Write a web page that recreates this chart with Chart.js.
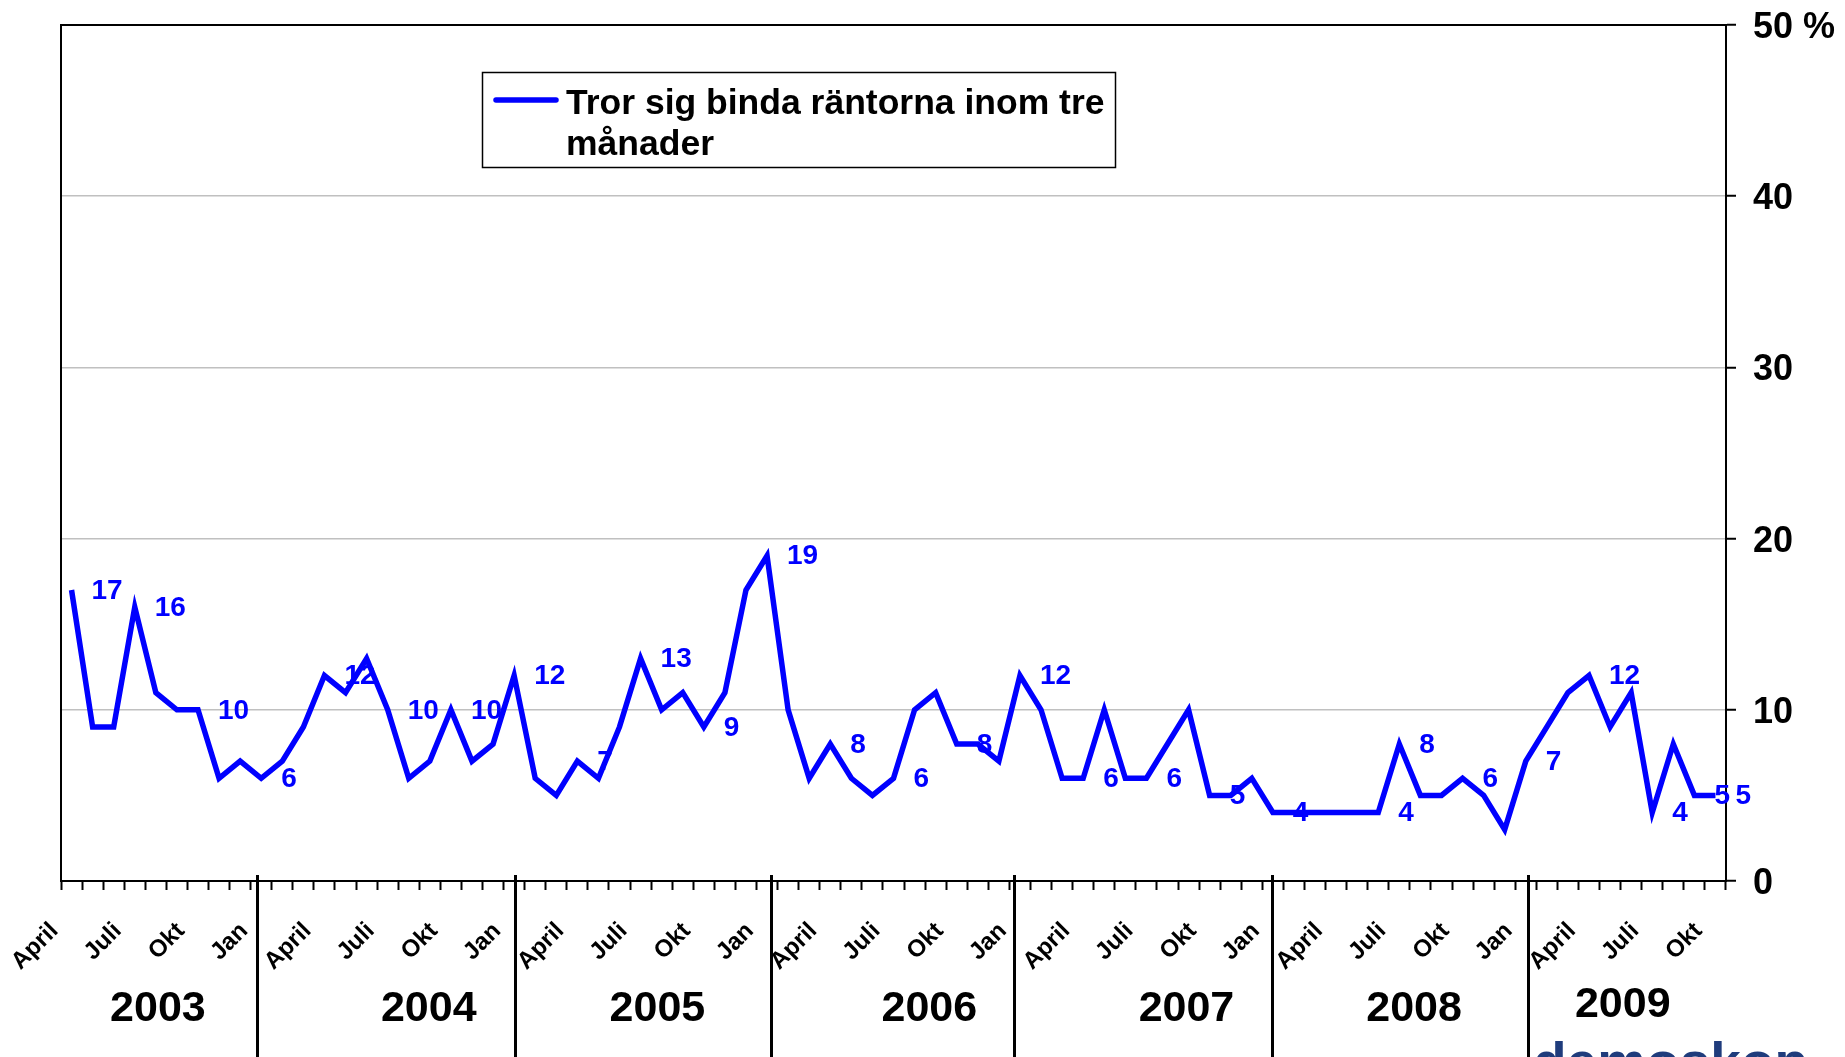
<!DOCTYPE html>
<html>
<head>
<meta charset="utf-8">
<title>Tror sig binda räntorna inom tre månader</title>
<script src="https://cdn.jsdelivr.net/npm/chart.js@4/dist/chart.umd.min.js"></script>
<style>
    body { margin: 0; background: #fff; }
    #wrap { width: 1845px; height: 1057px; position: relative; overflow: hidden; }
</style>
</head>
<body>
<div id="wrap"><canvas id="chart" width="1845" height="1057"></canvas></div>
<script>
'use strict';

// data, monthly from April 2003 to Okt 2009
var years = ['2003', '2004', '2005', '2006', '2007', '2008', '2009'];
var monthNames = ['Jan', 'Feb', 'Mars', 'April', 'Maj', 'Juni', 'Juli', 'Aug', 'Sep', 'Okt', 'Nov', 'Dec'];
var tickLabels = ['April', 'Juli', 'Okt', 'Jan'];

var values = [
    17, 9, 9, 16, 11, 10, 10, 6, 7,
    6, 7, 9, 12, 11, 13, 10, 6, 7, 10, 7, 8,
    12, 6, 5, 7, 6, 9, 13, 10, 11, 9, 11, 17,
    19, 10, 6, 8, 6, 5, 6, 10, 11, 8, 8, 7,
    12, 10, 6, 6, 10, 6, 6, 8, 10, 5, 5, 6,
    4, 4, 4, 4, 4, 4, 8, 5, 5, 6, 5, 3,
    7, 9, 11, 12, 9, 11, 4, 8, 5, 5
];

// points that carry a value label
var labelledPoints = [0, 3, 6, 9, 12, 15, 18, 21, 24, 27, 30, 33, 36, 39, 42, 45,
    48, 51, 54, 57, 62, 63, 66, 69, 72, 75, 77, 78];

var legendLines = ['Tror sig binda räntorna inom tre', 'månader'];
var yTicks = [0, 10, 20, 30, 40, 50];

// where the year texts and year dividers sit, in category index units
var yearPos = [4.1, 16.95, 27.8, 40.7, 52.9, 63.7, 73.6];
var dividerPos = [8.79, 21.03, 33.2, 44.7, 56.97, 69.1];

var categories = [];
for (var y = 0; y < years.length; y++) {
    for (var m = 0; m < 12; m++) {
        if (categories.length >= values.length) break;
        if (y === 0 && m < 3) continue;
        categories.push(monthNames[m]);
    }
}

var FONT = '"Liberation Sans", Arial, sans-serif';
var BLUE = '#0000ff';

var labelPlugin = {
    id: 'valueLabels',
    beforeDatasetsDraw: function (chart) {
        var ctx = chart.ctx;
        var meta = chart.getDatasetMeta(0);
        ctx.save();
        ctx.fillStyle = BLUE;
        ctx.font = 'bold 28px ' + FONT;
        ctx.textAlign = 'left';
        ctx.textBaseline = 'middle';
        for (var i = 0; i < labelledPoints.length; i++) {
            var idx = labelledPoints[i];
            var pt = meta.data[idx];
            ctx.fillText(String(values[idx]), pt.x + 20, pt.y + 1);
        }
        ctx.restore();
    }
};

var framePlugin = {
    id: 'frame',
    afterDraw: function (chart) {
        var ctx = chart.ctx;
        var area = chart.chartArea;
        var xScale = chart.scales.x;

        ctx.save();
        ctx.strokeStyle = '#000';
        ctx.lineWidth = 2;
        ctx.beginPath();
        ctx.moveTo(area.left, area.bottom);
        ctx.lineTo(area.left, area.top);
        ctx.lineTo(area.right, area.top);
        ctx.stroke();

        // year dividers under the axis
        ctx.lineWidth = 3;
        for (var i = 0; i < dividerPos.length; i++) {
            var dx = Math.round(xScale.getPixelForValue(dividerPos[i])) + 0.5;
            ctx.beginPath();
            ctx.moveTo(dx, area.bottom - 6);
            ctx.lineTo(dx, chart.height);
            ctx.stroke();
        }

        ctx.fillStyle = '#000';
        ctx.font = 'bold 43px ' + FONT;
        ctx.textAlign = 'center';
        ctx.textBaseline = 'middle';
        for (var j = 0; j < years.length; j++) {
            var yy = j === years.length - 1 ? 1005 : 1009;
            ctx.fillText(years[j], xScale.getPixelForValue(yearPos[j]), yy);
        }

        // legend box
        ctx.fillStyle = '#fff';
        ctx.fillRect(482, 72, 633, 95);
        ctx.lineWidth = 1.5;
        ctx.strokeRect(482.5, 72.5, 633, 95);
        ctx.strokeStyle = BLUE;
        ctx.lineWidth = 5.5;
        ctx.lineCap = 'round';
        ctx.beginPath();
        ctx.moveTo(496, 100);
        ctx.lineTo(556, 100);
        ctx.stroke();
        ctx.fillStyle = '#000';
        ctx.font = 'bold 35.5px ' + FONT;
        ctx.textAlign = 'left';
        ctx.textBaseline = 'alphabetic';
        ctx.fillText(legendLines[0], 566, 114);
        ctx.fillText(legendLines[1], 566, 155);

        // logo, cut off by the bottom edge
        ctx.fillStyle = '#1f3c7c';
        ctx.font = 'bold 55px ' + FONT;
        ctx.fillText('demoskop', 1533, 1081);
        ctx.restore();
    }
};

var ctx = document.getElementById('chart').getContext('2d');

var chart = new Chart(ctx, {
    type: 'line',
    data: {
        labels: categories,
        datasets: [{
            label: legendLines.join(' '),
            data: values,
            borderColor: BLUE,
            borderWidth: 5.5,
            pointRadius: 0,
            tension: 0,
            fill: false
        }]
    },
    options: {
        responsive: false,
        animation: false,
        layout: { padding: { left: 61, top: 25, right: 0, bottom: 0 } },
        plugins: {
            legend: { display: false },
            tooltip: { enabled: false }
        },
        scales: {
            x: {
                type: 'category',
                offset: true,
                grid: {
                    offset: true,
                    drawOnChartArea: false,
                    drawTicks: true,
                    tickLength: 9,
                    tickColor: '#000',
                    tickWidth: 2
                },
                border: { display: true, color: '#000', width: 2 },
                ticks: {
                    autoSkip: false,
                    maxRotation: 45,
                    minRotation: 45,
                    padding: 27,
                    labelOffset: -17,
                    color: '#000',
                    font: { family: FONT, size: 24, weight: 'bold' },
                    callback: function (value) {
                        var name = this.getLabelForValue(value);
                        return tickLabels.indexOf(name) >= 0 ? name : '';
                    }
                },
                afterFit: function (scale) {
                    scale.height = 176;
                    scale.paddingLeft = 0;
                    scale.paddingRight = 0;
                }
            },
            y: {
                position: 'right',
                min: 0,
                max: 50,
                afterBuildTicks: function (scale) {
                    scale.ticks = yTicks.map(function (v) { return { value: v }; });
                },
                grid: {
                    color: function (c) {
                        if (c.tick && (c.tick.value === 0 || c.tick.value === 50)) {
                            return 'rgba(0,0,0,0)';
                        }
                        return '#c0c0c0';
                    },
                    lineWidth: 1.5,
                    tickLength: 10,
                    tickColor: '#000',
                    tickWidth: 2
                },
                border: { display: true, color: '#000', width: 2 },
                ticks: {
                    padding: 17,
                    labelOffset: 3,
                    color: '#000',
                    font: { family: FONT, size: 36, weight: 'bold' },
                    callback: function (v) {
                        return v === 50 ? '50 %' : String(v);
                    }
                },
                afterFit: function (scale) {
                    scale.width = 119;
                    scale.paddingTop = 0;
                    scale.paddingBottom = 0;
                }
            }
        }
    },
    plugins: [labelPlugin, framePlugin]
});
</script>
</body>
</html>
